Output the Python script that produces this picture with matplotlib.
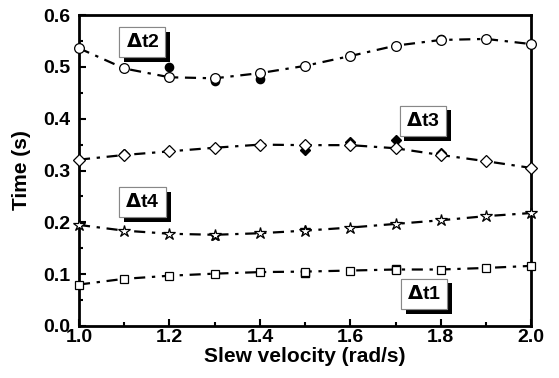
import matplotlib
matplotlib.use("Agg")
import matplotlib.pyplot as plt
import matplotlib.patheffects as pe
from matplotlib.ticker import MultipleLocator

plt.rcParams['font.family'] = ['Liberation Sans', 'DejaVu Sans']
plt.rcParams['font.weight'] = 'bold'

velocity = [1.0, 1.1, 1.2, 1.3, 1.4, 1.5, 1.6, 1.7, 1.8, 1.9, 2.0]

# fitted (open markers) and measured (filled markers) values per interval
dt2_fit = [0.536, 0.497, 0.480, 0.478, 0.488, 0.502, 0.521, 0.541, 0.552, 0.554, 0.544]
dt2_meas_x = [1.2, 1.3, 1.4, 1.8]
dt2_meas = [0.500, 0.473, 0.477, 0.553]

dt3_fit = [0.321, 0.330, 0.337, 0.344, 0.350, 0.349, 0.349, 0.343, 0.330, 0.318, 0.305]
dt3_meas_x = [1.1, 1.5, 1.6, 1.7, 1.8, 1.9]
dt3_meas = [0.331, 0.339, 0.356, 0.358, 0.334, 0.319]

dt4_fit = [0.195, 0.184, 0.178, 0.176, 0.179, 0.184, 0.190, 0.197, 0.204, 0.212, 0.218]
dt4_meas_x = [1.3, 1.5]
dt4_meas = [0.174, 0.186]

dt1_fit = [0.080, 0.091, 0.097, 0.101, 0.104, 0.105, 0.107, 0.109, 0.109, 0.112, 0.116]
dt1_meas_x = [1.5, 1.7]
dt1_meas = [0.103, 0.110]

labels = [r'$\Delta$t2', r'$\Delta$t3', r'$\Delta$t4', r'$\Delta$t1']
label_pos = [(1.14, 0.548), (1.76, 0.396), (1.14, 0.239), (1.763, 0.062)]

fig = plt.figure(figsize=(5.59, 3.78), dpi=100)
ax = fig.add_axes([0.1413, 0.1376, 0.809, 0.8225])

series = [
    (dt2_fit, dt2_meas_x, dt2_meas, 'o', 7),
    (dt3_fit, dt3_meas_x, dt3_meas, 'D', 6),
    (dt4_fit, dt4_meas_x, dt4_meas, '*', 9),
    (dt1_fit, dt1_meas_x, dt1_meas, 's', 6),
]

for fit, mx, my, mk, ms in series:
    ax.plot(mx, my, linestyle='none', marker=mk, markersize=ms * 0.85,
            markerfacecolor='black', markeredgecolor='black', zorder=2)
    ax.plot(velocity, fit, color='black', linestyle=(0, (5, 3, 1.5, 3)),
            linewidth=1.6, zorder=3)
    ax.plot(velocity, fit, linestyle='none', marker=mk, markersize=ms,
            markerfacecolor='white', markeredgecolor='black',
            markeredgewidth=0.9, zorder=4, clip_on=False)

for text, (x, y) in zip(labels, label_pos):
    t = ax.text(x, y, text, fontsize=14, fontweight='bold', ha='center', va='center',
                zorder=6,
                bbox=dict(boxstyle='square,pad=0.32', facecolor='white',
                          edgecolor='#888888', linewidth=0.8))
    t.get_bbox_patch().set_path_effects([
        pe.withSimplePatchShadow(offset=(3.5, -3.5), shadow_rgbFace='black', alpha=1.0),
        pe.Normal()])

ax.set_xlim(1.0, 2.0)
ax.set_ylim(0.0, 0.6)
ax.xaxis.set_major_locator(MultipleLocator(0.2))
ax.xaxis.set_minor_locator(MultipleLocator(0.1))
ax.yaxis.set_major_locator(MultipleLocator(0.1))
ax.yaxis.set_minor_locator(MultipleLocator(0.05))
ax.xaxis.set_major_formatter(plt.FormatStrFormatter('%.1f'))
ax.yaxis.set_major_formatter(plt.FormatStrFormatter('%.1f'))
ax.tick_params(which='both', direction='in', top=False, right=False,
               labelsize=14, width=1.5)
ax.tick_params(which='major', length=5)
ax.tick_params(which='minor', length=3)
ax.tick_params(axis='x', pad=2)
ax.tick_params(axis='y', pad=6)
for lab in ax.get_xticklabels() + ax.get_yticklabels():
    lab.set_fontweight('bold')
for s in ax.spines.values():
    s.set_linewidth(2)

ax.set_xlabel('Slew velocity (rad/s)', fontsize=15, fontweight='bold', labelpad=1)
ax.set_ylabel('Time (s)', fontsize=15, fontweight='bold', labelpad=9)

fig.savefig('out.png', dpi=100)
